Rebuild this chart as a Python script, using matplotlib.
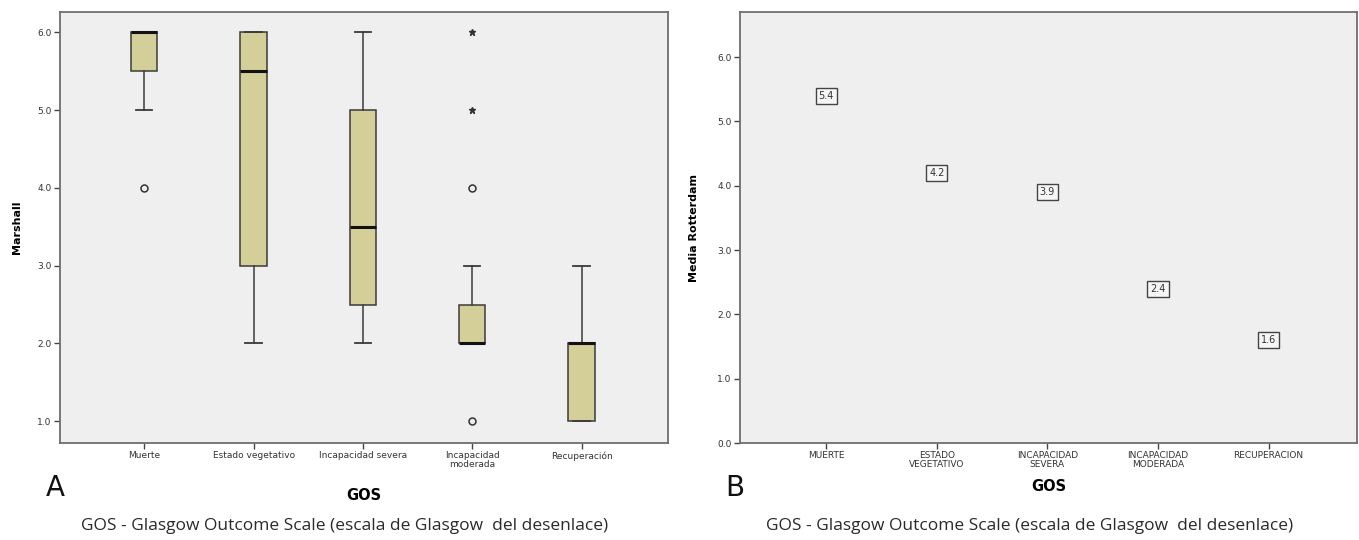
import matplotlib
matplotlib.use("Agg")
import matplotlib.pyplot as plt

# ---- Data ----
cats_a = ["Muerte", "Estado vegetativo", "Incapacidad severa", "Incapacidad\nmoderada", "Recuperación"]
q1 = [5.5, 3.0, 2.5, 2.0, 1.0]
med = [6.0, 5.5, 3.5, 2.0, 2.0]
q3 = [6.0, 6.0, 5.0, 2.5, 2.0]
whislo = [5.0, 2.0, 2.0, 2.0, 1.0]
whishi = [6.0, 6.0, 6.0, 3.0, 3.0]
outliers = [[4.0], [], [], [4.0, 1.0], []]
extremes = [[], [], [], [5.0, 6.0], []]

cats_b = ["MUERTE", "ESTADO\nVEGETATIVO", "INCAPACIDAD\nSEVERA", "INCAPACIDAD\nMODERADA", "RECUPERACION"]
media_rotterdam = [5.4, 4.2, 3.9, 2.4, 1.6]

# ---- Figure ----
fig = plt.figure(figsize=(13.59, 5.40), dpi=100)
fig.patch.set_facecolor("white")

bg = "#efefef"
spine_c = "#6e6e6e"
tick_c = "#444444"

ax1 = fig.add_axes([0.0442, 0.1796, 0.4473, 0.798])
ax2 = fig.add_axes([0.5445, 0.1796, 0.4540, 0.798])

for ax in (ax1, ax2):
    ax.set_facecolor(bg)
    for s in ax.spines.values():
        s.set_color(spine_c)
        s.set_linewidth(1.3)
    ax.tick_params(axis="both", direction="out", length=4, width=1.0, color=tick_c,
                   labelsize=6.5, labelcolor="#333333", pad=2)

# ---- Panel A: boxplot ----
stats = []
for i in range(len(cats_a)):
    stats.append(dict(label=cats_a[i], q1=q1[i], med=med[i], q3=q3[i],
                      whislo=whislo[i], whishi=whishi[i], fliers=outliers[i]))
pos = list(range(len(cats_a)))
ax1.bxp(stats, positions=pos, widths=0.24, patch_artist=True, showfliers=True,
        boxprops=dict(facecolor="#d4cf98", edgecolor="#3a3a3a", linewidth=1.1),
        medianprops=dict(color="#111111", linewidth=2.2),
        whiskerprops=dict(color="#3a3a3a", linewidth=1.1),
        capprops=dict(color="#3a3a3a", linewidth=1.3),
        capwidths=0.15,
        flierprops=dict(marker="o", markersize=5, markerfacecolor="none",
                        markeredgecolor="#333333", markeredgewidth=1.1))
for i, ex in enumerate(extremes):
    if ex:
        ax1.plot([pos[i]] * len(ex), ex, linestyle="none", marker="*", markersize=5,
                 color="#333333")

ax1.set_xlim(-0.77, 4.79)
ax1.set_ylim(0.72, 6.26)
ax1.set_yticks([1, 2, 3, 4, 5, 6])
ax1.set_yticklabels(["1.0", "2.0", "3.0", "4.0", "5.0", "6.0"])
ax1.set_xticks(pos)
ax1.set_xticklabels(cats_a, fontsize=6.5, linespacing=0.95)
ax1.set_ylabel("Marshall", fontsize=8, fontweight="bold", labelpad=11)
ax1.set_xlabel("GOS", fontsize=10.5, fontweight="bold", labelpad=14)

# ---- Panel B: means with boxed labels ----
pos_b = list(range(len(cats_b)))
for i, v in enumerate(media_rotterdam):
    ax2.text(pos_b[i], v, f"{v:.1f}", ha="center", va="center", fontsize=7,
             color="#333333",
             bbox=dict(boxstyle="square,pad=0.3", facecolor="#f6f6f6",
                       edgecolor="#444444", linewidth=1.0))
ax2.set_xlim(-0.78, 4.8)
ax2.set_ylim(0.0, 6.7)
ax2.set_yticks([0, 1, 2, 3, 4, 5, 6])
ax2.set_yticklabels(["0.0", "1.0", "2.0", "3.0", "4.0", "5.0", "6.0"])
ax2.set_xticks(pos_b)
ax2.set_xticklabels(cats_b, fontsize=6.5, linespacing=0.95)
ax2.set_ylabel("Media Rotterdam", fontsize=8, fontweight="bold", labelpad=13)
ax2.set_xlabel("GOS", fontsize=10.5, fontweight="bold", labelpad=7)

# ---- Panel letters and captions ----
fig.text(55 / 1359, 1 - 488 / 540, "A", fontsize=20, ha="center", va="center", color="#111111")
fig.text(735 / 1359, 1 - 488 / 540, "B", fontsize=20, ha="center", va="center", color="#111111")
caption = "GOS - Glasgow Outcome Scale (escala de Glasgow  del desenlace)"
fig.text(345 / 1359, 1 - 526 / 540, caption, fontsize=12.5, ha="center", va="center",
         color="#2a2a2a", family="Open Sans")
fig.text(1030 / 1359, 1 - 526 / 540, caption, fontsize=12.5, ha="center", va="center",
         color="#2a2a2a", family="Open Sans")

fig.savefig("out.png", dpi=100, facecolor="white")
